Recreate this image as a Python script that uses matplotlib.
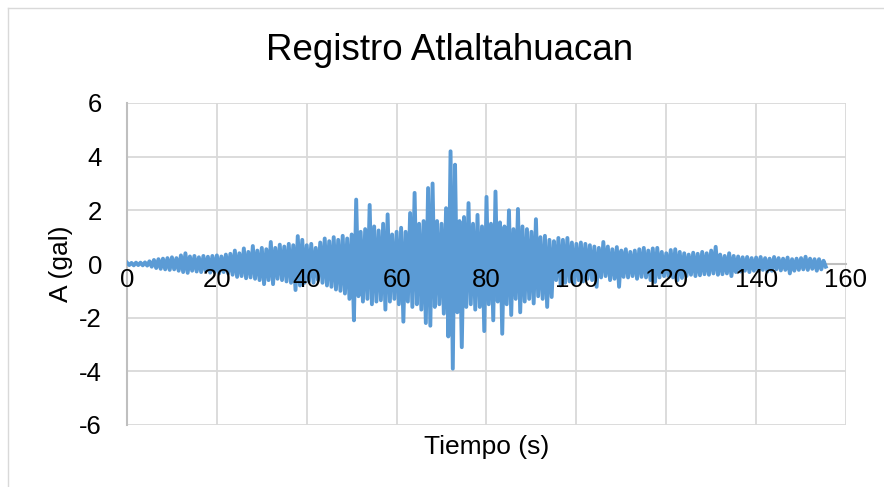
import numpy as np
import matplotlib
matplotlib.use("Agg")
import matplotlib.pyplot as plt
from matplotlib.lines import Line2D

# Registro Atlaltahuacan - acceleration record.
# Positive peaks at t = 0, 1, 2, ... s and negative peaks at t = 0.5, 1.5, ... s
dt = 0.5

upper_peaks = [
    0.05, 0.04, 0.05, 0.05, 0.06, 0.10, 0.15, 0.18, 0.20, 0.22,
    0.25, 0.22, 0.32, 0.40, 0.28, 0.30, 0.25, 0.30, 0.27, 0.30,
    0.32, 0.28, 0.35, 0.38, 0.50, 0.40, 0.58, 0.45, 0.67, 0.50,
    0.60, 0.55, 0.82, 0.60, 0.72, 0.65, 0.75, 0.70, 1.04, 0.90,
    0.70, 0.75, 0.60, 0.80, 0.95, 0.85, 1.00, 0.90, 1.05, 0.95,
    1.10, 2.40, 1.20, 1.30, 2.20, 1.40, 1.25, 1.50, 1.85, 1.10,
    1.20, 1.35, 1.20, 1.90, 2.65, 1.50, 1.60, 2.83, 3.00, 1.60,
    1.50, 2.08, 4.20, 3.70, 1.60, 1.75, 2.27, 1.50, 1.83, 1.40,
    2.50, 1.50, 2.70, 1.55, 1.40, 2.00, 1.30, 2.05, 1.40, 1.30,
    1.20, 1.67, 1.00, 1.05, 0.90, 0.85, 0.97, 0.90, 0.97, 0.80,
    0.75, 0.80, 0.75, 0.70, 0.65, 0.60, 0.82, 0.65, 0.55, 0.63,
    0.50, 0.55, 0.45, 0.50, 0.55, 0.60, 0.50, 0.58, 0.60, 0.45,
    0.40, 0.52, 0.55, 0.45, 0.40, 0.35, 0.42, 0.38, 0.45, 0.40,
    0.50, 0.64, 0.35, 0.30, 0.40, 0.30, 0.28, 0.25, 0.26, 0.22,
    0.24, 0.26, 0.22, 0.20, 0.26, 0.22, 0.20, 0.24, 0.18, 0.20,
    0.22, 0.27, 0.20, 0.18, 0.18, 0.12,
]

lower_peaks = [
    -0.04, -0.05, -0.04, -0.05, -0.06, -0.10, -0.15, -0.18, -0.20, -0.22,
    -0.20, -0.25, -0.30, -0.33, -0.25, -0.28, -0.30, -0.25, -0.32, -0.30,
    -0.35, -0.30, -0.35, -0.40, -0.48, -0.45, -0.53, -0.50, -0.55, -0.60,
    -0.75, -0.60, -0.75, -0.55, -0.60, -0.65, -0.70, -0.97, -0.80, -0.70,
    -0.65, -0.70, -0.60, -0.70, -0.80, -0.85, -0.95, -1.00, -1.10, -1.30,
    -2.10, -1.20, -1.40, -1.30, -1.50, -1.40, -1.35, -1.70, -1.40, -1.30,
    -1.50, -2.15, -1.40, -1.60, -1.50, -1.70, -2.20, -2.30, -1.60, -1.50,
    -1.85, -2.70, -3.90, -1.80, -3.10, -1.60, -1.50, -1.70, -1.60, -2.50,
    -1.50, -2.10, -1.40, -2.60, -1.50, -1.90, -1.30, -1.80, -1.40, -1.30,
    -1.47, -1.20, -1.30, -1.60, -1.23, -0.60, -0.80, -0.70, -0.65, -0.72,
    -0.60, -0.65, -0.55, -0.60, -0.85, -0.50, -0.45, -0.60, -0.55, -0.85,
    -0.48, -0.50, -0.45, -0.55, -0.48, -0.50, -0.60, -0.67, -0.50, -0.45,
    -0.45, -0.50, -0.60, -0.52, -0.45, -0.40, -0.45, -0.42, -0.38, -0.40,
    -0.35, -0.40, -0.38, -0.35, -0.45, -0.30, -0.28, -0.25, -0.30, -0.25,
    -0.26, -0.22, -0.28, -0.25, -0.20, -0.24, -0.22, -0.35, -0.25, -0.22,
    -0.20, -0.22, -0.18, -0.25, -0.20, -0.10,
]

x_ticks = [0, 20, 40, 60, 80, 100, 120, 140, 160]
y_ticks = [-6, -4, -2, 0, 2, 4, 6]

# interleave the two peak lists into one record
accel = np.empty(len(upper_peaks) + len(lower_peaks))
accel[0::2] = upper_peaks
accel[1::2] = lower_peaks
time = np.arange(len(accel)) * dt

plt.rcParams['font.family'] = ['Liberation Sans', 'DejaVu Sans']
plt.rcParams['axes.unicode_minus'] = False

fig = plt.figure(figsize=(8.84, 4.87), dpi=100)
ax = fig.add_axes([127 / 884, 1 - 425 / 487, (846 - 127) / 884, (425 - 103) / 487])

# gridlines drawn by hand so the tick labels can sit on top of the signal
for xv in x_ticks[1:]:
    ax.axvline(xv, color='#d9d9d9', linewidth=1.3, zorder=0.5)
for yv in y_ticks:
    ax.axhline(yv, color='#d9d9d9', linewidth=1.3, zorder=0.5)

ax.plot(time, accel, color='#5b9bd5', linewidth=2.8, zorder=2)

ax.set_xlim(0, 160)
ax.set_ylim(-6, 6)
ax.set_xticks(x_ticks)
ax.set_yticks(y_ticks)
ax.set_axisbelow(False)

for side in ['top', 'right']:
    ax.spines[side].set_visible(False)
ax.spines['left'].set_color('#bfbfbf')
ax.spines['left'].set_linewidth(1.5)
ax.spines['bottom'].set_position(('data', 0))
ax.spines['bottom'].set_color('#bfbfbf')
ax.spines['bottom'].set_linewidth(1.5)
ax.spines['bottom'].set_zorder(1)
ax.spines['left'].set_zorder(1)

ax.tick_params(axis='both', length=0, labelsize=18.5, colors='black')
ax.tick_params(axis='y', pad=18)
ax.tick_params(axis='x', pad=3)

ax.set_xlabel('Tiempo (s)', fontsize=19)
ax.xaxis.set_label_coords(0.5, -0.03)
ax.set_ylabel('A (gal)', fontsize=19)
ax.yaxis.set_label_coords(-0.075, 0.5)

fig.text(450 / 884, 1 - 50 / 487, 'Registro Atlaltahuacan', fontsize=26.5,
         ha='center', va='center')

# thin chart border as in the source
fig.add_artist(Line2D([8 / 884, 8 / 884], [0, 1 - 8 / 487], color='#d9d9d9', linewidth=1))
fig.add_artist(Line2D([8 / 884, 1], [1 - 8 / 487, 1 - 8 / 487], color='#d9d9d9', linewidth=1))

fig.savefig('out.png', dpi=100)
